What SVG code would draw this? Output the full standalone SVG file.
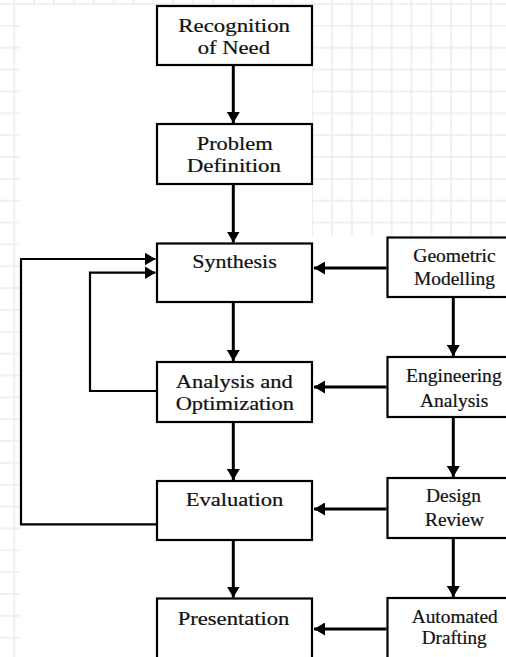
<svg xmlns="http://www.w3.org/2000/svg" width="506" height="657" viewBox="0 0 506 657">
<style>
.box{fill:#fff;stroke:#000;stroke-width:2.2}
.lbl{font-family:"Liberation Serif","Times New Roman",serif;font-size:18px;fill:#111;stroke:#111;stroke-width:0.2}
.main{fill:none;stroke:#000;stroke-width:3}
.fb{fill:none;stroke:#000;stroke-width:2.2}
</style>
<defs>
<pattern id="grid" patternUnits="userSpaceOnUse" x="4.3" y="-6.9" width="19.86" height="21.85">
<path d="M10,0V21.85M0,10.9H19.86" stroke="#ebebeb" stroke-width="1.5" fill="none"/>
</pattern>
<marker id="ah" viewBox="0 0 11 13" refX="11" refY="6.5" markerWidth="11" markerHeight="13" markerUnits="userSpaceOnUse" orient="auto">
<path d="M0,0L11,6.5L0,13z" fill="#000"/>
</marker>
</defs>
<g id="background">
<rect width="506" height="657" fill="#fff"/>
<rect width="506" height="657" fill="url(#grid)"/>
<rect x="20" y="5" width="292" height="652" fill="#fff"/>
<rect x="312" y="236" width="194" height="421" fill="#fff"/>
</g>
<g id="connectors">
<path class="main" d="M233.3,66V123" marker-end="url(#ah)"/>
<path class="main" d="M233.3,185V242.5" marker-end="url(#ah)"/>
<path class="main" d="M233.3,303V361" marker-end="url(#ah)"/>
<path class="main" d="M233.3,423V480" marker-end="url(#ah)"/>
<path class="main" d="M233.3,541V597.5" marker-end="url(#ah)"/>
<path class="main" d="M453.3,298V356" marker-end="url(#ah)"/>
<path class="main" d="M453.3,418V477" marker-end="url(#ah)"/>
<path class="main" d="M453.3,539V597" marker-end="url(#ah)"/>
<path class="main" d="M386.5,268H314" marker-end="url(#ah)"/>
<path class="main" d="M386.5,387H314" marker-end="url(#ah)"/>
<path class="main" d="M386.5,509H314" marker-end="url(#ah)"/>
<path class="main" d="M386.5,629H314" marker-end="url(#ah)"/>
<path class="fb" d="M156,524.3H21V259H155.5" marker-end="url(#ah)"/>
<path class="fb" d="M156,391H90V272.7H155.5" marker-end="url(#ah)"/>
</g>
<g id="recognition">
<rect class="box" x="157" y="6" width="155" height="59"/>
<text class="lbl" x="178.3" y="32.3" textLength="111.7" lengthAdjust="spacingAndGlyphs">Recognition</text>
<text class="lbl" x="197.7" y="53.5" textLength="72.3" lengthAdjust="spacingAndGlyphs">of Need</text>
</g>
<g id="problem">
<rect class="box" x="157" y="124" width="155" height="60"/>
<text class="lbl" x="196.7" y="149.5" textLength="76" lengthAdjust="spacingAndGlyphs">Problem</text>
<text class="lbl" x="186.7" y="171.7" textLength="94.3" lengthAdjust="spacingAndGlyphs">Definition</text>
</g>
<g id="synthesis">
<rect class="box" x="157" y="243.5" width="155" height="58.5"/>
<text class="lbl" x="192.3" y="268.3" textLength="84.4" lengthAdjust="spacingAndGlyphs">Synthesis</text>
</g>
<g id="analysis">
<rect class="box" x="157" y="362" width="155" height="60"/>
<text class="lbl" x="175.7" y="387.5" textLength="117" lengthAdjust="spacingAndGlyphs">Analysis and</text>
<text class="lbl" x="175.7" y="409.5" textLength="118.3" lengthAdjust="spacingAndGlyphs">Optimization</text>
</g>
<g id="evaluation">
<rect class="box" x="157" y="481" width="155" height="59"/>
<text class="lbl" x="185.7" y="506" textLength="97.7" lengthAdjust="spacingAndGlyphs">Evaluation</text>
</g>
<g id="presentation">
<rect class="box" x="157" y="598.5" width="155" height="70"/>
<text class="lbl" x="177.7" y="625" textLength="111.7" lengthAdjust="spacingAndGlyphs">Presentation</text>
</g>
<g id="geometric">
<rect class="box" x="387.5" y="237.5" width="140" height="59.5"/>
<text class="lbl" x="413.3" y="262.3" textLength="82.4" lengthAdjust="spacingAndGlyphs">Geometric</text>
<text class="lbl" x="414" y="285" textLength="81" lengthAdjust="spacingAndGlyphs">Modelling</text>
</g>
<g id="engineering">
<rect class="box" x="387.5" y="357" width="140" height="60"/>
<text class="lbl" x="406" y="381.7" textLength="95.7" lengthAdjust="spacingAndGlyphs">Engineering</text>
<text class="lbl" x="420" y="406.7" textLength="68.3" lengthAdjust="spacingAndGlyphs">Analysis</text>
</g>
<g id="design">
<rect class="box" x="387.5" y="478" width="140" height="60"/>
<text class="lbl" x="426" y="502.3" textLength="55" lengthAdjust="spacingAndGlyphs">Design</text>
<text class="lbl" x="425" y="525.7" textLength="59" lengthAdjust="spacingAndGlyphs">Review</text>
</g>
<g id="automated">
<rect class="box" x="387.5" y="598" width="140" height="70"/>
<text class="lbl" x="411.7" y="623.3" textLength="86" lengthAdjust="spacingAndGlyphs">Automated</text>
<text class="lbl" x="421.7" y="643.5" textLength="65" lengthAdjust="spacingAndGlyphs">Drafting</text>
</g>
</svg>
